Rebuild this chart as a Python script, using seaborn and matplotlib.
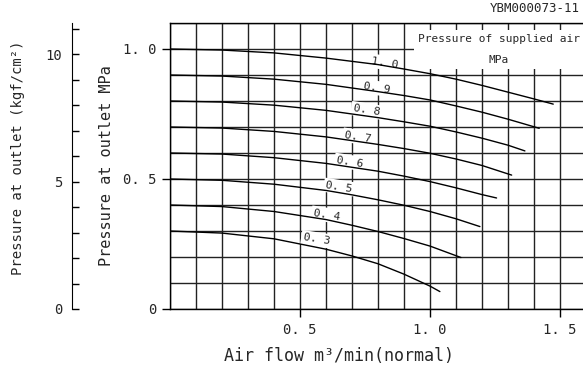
import numpy as np
import pandas as pd
import matplotlib.pyplot as plt
import seaborn as sns
from matplotlib.ticker import MultipleLocator, FixedLocator, FixedFormatter

# supplied air pressure (MPa) -> outlet pressure curve
supply = ["1. 0", "0. 9", "0. 8", "0. 7", "0. 6", "0. 5", "0. 4", "0. 3"]
flow_10 = [0, 0.2, 0.4, 0.6, 0.8, 0.9, 1.0, 1.1, 1.2, 1.3, 1.4, 1.474]
out_10 = [1.0, 0.996, 0.985, 0.965, 0.94, 0.923, 0.905, 0.884, 0.86, 0.834, 0.808, 0.788]
flow_09 = [0, 0.2, 0.4, 0.6, 0.8, 0.9, 1.0, 1.1, 1.2, 1.3, 1.42]
out_09 = [0.9, 0.896, 0.884, 0.864, 0.836, 0.821, 0.804, 0.781, 0.757, 0.73, 0.695]
flow_08 = [0, 0.2, 0.4, 0.6, 0.8, 0.9, 1.0, 1.1, 1.2, 1.3, 1.365]
out_08 = [0.8, 0.796, 0.784, 0.764, 0.736, 0.72, 0.703, 0.681, 0.657, 0.63, 0.608]
flow_07 = [0, 0.2, 0.4, 0.6, 0.8, 0.9, 1.0, 1.1, 1.2, 1.314]
out_07 = [0.7, 0.696, 0.683, 0.662, 0.633, 0.617, 0.599, 0.577, 0.552, 0.515]
flow_06 = [0, 0.2, 0.4, 0.6, 0.8, 0.9, 1.0, 1.1, 1.2, 1.256]
out_06 = [0.6, 0.596, 0.582, 0.56, 0.53, 0.511, 0.49, 0.466, 0.44, 0.427]
flow_05 = [0, 0.2, 0.4, 0.6, 0.7, 0.8, 0.9, 1.0, 1.1, 1.192]
out_05 = [0.5, 0.495, 0.48, 0.456, 0.439, 0.42, 0.399, 0.375, 0.347, 0.317]
flow_04 = [0, 0.2, 0.4, 0.6, 0.7, 0.8, 0.9, 1.0, 1.119]
out_04 = [0.4, 0.394, 0.375, 0.344, 0.322, 0.298, 0.271, 0.242, 0.198]
flow_03 = [0, 0.2, 0.4, 0.6, 0.7, 0.8, 0.9, 1.0, 1.038]
out_03 = [0.3, 0.292, 0.27, 0.23, 0.204, 0.174, 0.134, 0.088, 0.067]

flows = [flow_10, flow_09, flow_08, flow_07, flow_06, flow_05, flow_04, flow_03]
outs = [out_10, out_09, out_08, out_07, out_06, out_05, out_04, out_03]

# label anchor for each curve
label_x = [0.827, 0.795, 0.756, 0.724, 0.692, 0.651, 0.603, 0.564]
label_y = [0.947, 0.85, 0.764, 0.662, 0.565, 0.469, 0.362, 0.268]

rows = []
for s, fx, fy in zip(supply, flows, outs):
    for a, b in zip(fx, fy):
        rows.append({"supply": s, "flow": a, "outlet": b})
df = pd.DataFrame(rows)

sns.set_style("white")
plt.rcParams['font.family'] = ['DejaVu Sans Mono']

fig = plt.figure(figsize=(5.83, 3.70), dpi=100)
W, H = 583, 370
ax = fig.add_axes([170 / W, 61 / H, 1.6 * 260 / W, 286 / H])

sns.lineplot(data=df, x="flow", y="outlet", hue="supply",
             palette={s: "black" for s in supply}, legend=False,
             lw=1.0, ax=ax, zorder=3, sort=False)

ax.set_xlim(0, 1.6)
ax.set_ylim(0, 1.1)
ax.xaxis.set_minor_locator(MultipleLocator(0.1))
ax.yaxis.set_minor_locator(MultipleLocator(0.1))
ax.grid(which="both", color="#222222", lw=1.0)
ax.set_axisbelow(True)
ax.xaxis.set_major_locator(FixedLocator([0.5, 1.0, 1.5]))
ax.xaxis.set_major_formatter(FixedFormatter(["0. 5", "1. 0", "1. 5"]))
ax.yaxis.set_major_locator(FixedLocator([0, 0.5, 1.0]))
ax.yaxis.set_major_formatter(FixedFormatter(["0", "0. 5", "1. 0"]))
ax.tick_params(which="major", direction="out", length=6, width=1, color="black",
               labelsize=10, pad=4, left=True, bottom=True)
ax.tick_params(which="minor", length=0)
for sp in ax.spines.values():
    sp.set_color("black")
    sp.set_linewidth(1.0)
    sp.set_zorder(4)

ax.set_xlabel("Air flow m³/min(normal)", fontsize=12)
ax.xaxis.set_label_coords((339 - 170) / 416, -0.133)
ax.set_ylabel("Pressure at outlet MPa", fontsize=11)
ax.yaxis.set_label_coords((114 - 170) / 416, 0.5)

for s, lx, ly in zip(supply, label_x, label_y):
    ax.text(lx, ly, s, fontsize=8, rotation=-9, ha="center", va="center",
            zorder=2, bbox=dict(facecolor="white", edgecolor="none", pad=1.5))

ax.text(1.265, 1.058, "Pressure of supplied air\nMPa", fontsize=8,
        ha="center", va="top", multialignment="center", linespacing=2.4,
        zorder=2, bbox=dict(facecolor="white", edgecolor="none", pad=3))

# secondary scale in kgf/cm2
ax2 = fig.add_axes([72 / W, 61 / H, 0.001, 286 / H])
ax2.set_ylim(0, 1.1 / 0.0980665)
ax2.set_xticks([])
for k in ["top", "right", "bottom"]:
    ax2.spines[k].set_visible(False)
ax2.spines["left"].set_color("black")
ax2.yaxis.set_major_locator(FixedLocator(list(range(0, 12))))
ax2.yaxis.set_major_formatter(FixedFormatter(["0", "", "", "", "", "5", "", "", "", "", "10", ""]))
ax2.tick_params(axis="y", direction="in", length=5, width=1, color="black",
                labelsize=10, pad=7, left=True)

fig.text(18 / W, 1 - 158 / H, "Pressure at outlet (kgf/cm²)", fontsize=10,
         rotation=90, ha="center", va="center")
fig.text(580 / W, 1 - 8 / H, "YBM000073-11", fontsize=9, ha="right", va="center")

fig.savefig("out.png", dpi=100)
